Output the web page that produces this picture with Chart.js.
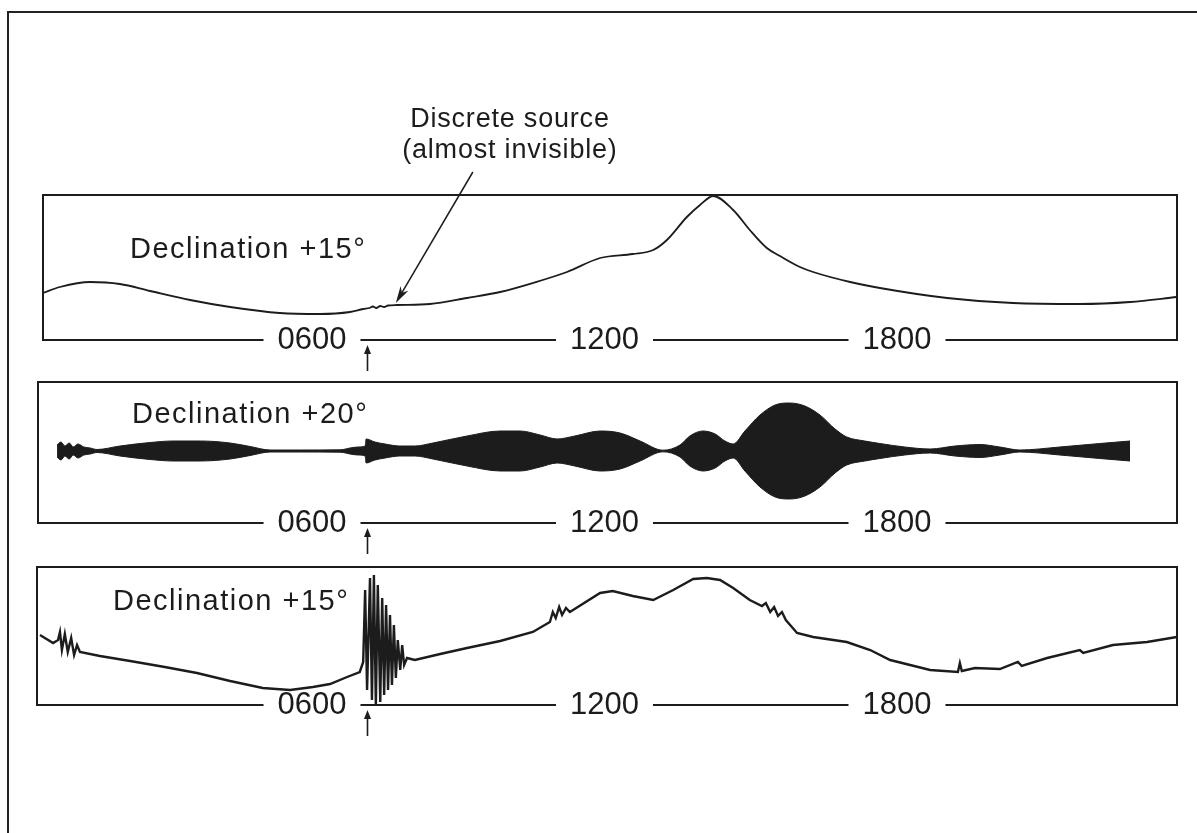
<!DOCTYPE html>
<html>
<head>
<meta charset="utf-8">
<script src="https://cdn.jsdelivr.net/npm/chart.js@4.4.1/dist/chart.umd.min.js"></script>
<style>
  html, body { margin: 0; padding: 0; background: #fff; }
  body { width: 1197px; height: 833px; position: relative; overflow: hidden; }
  .frame { position: absolute; left: 7px; top: 11px; right: -4px; bottom: -4px;
           border-top: 2px solid #222; border-left: 2px solid #222; }
  .panel { position: absolute; }
</style>
</head>
<body>
<div class="frame"></div>
<div class="panel" style="left:39px;top:95px;width:1142px;height:285px"><canvas id="c1"></canvas></div>
<div class="panel" style="left:34px;top:378px;width:1147px;height:185px"><canvas id="c2"></canvas></div>
<div class="panel" style="left:33px;top:563px;width:1148px;height:182px"><canvas id="c3"></canvas></div>
<script>
// time axis (hours)
var tickHours = [6, 12, 18];
var tickLabels = ['0600', '1200', '1800'];
var sourceHour = 7.12;

// top record: declination +15 (smooth)
var p1Hours = [0.48, 0.83, 1.45, 2.06, 2.68, 3.50, 4.32, 5.34, 6.16, 6.78,
  7.05, 7.18, 7.25, 7.32, 7.40, 7.48, 7.56, 7.74, 8.42, 9.18,
  9.86, 10.53, 11.23, 11.91, 12.58, 13.00, 13.28, 13.69, 13.96, 14.23,
  14.64, 14.98, 15.33, 15.60, 16.01, 16.28, 17.04, 17.65, 19.03, 20.38,
  21.75, 22.78, 23.74];
var p1Values = [47, 53, 58, 56, 49, 40, 33, 27, 26, 28,
  31, 32, 33.5, 32, 34, 33, 34.5, 35, 36, 42,
  48, 57, 68, 82, 86, 90, 100, 123, 135, 144,
  130, 110, 92, 84, 73, 68, 58, 52, 42, 37,
  36, 38, 43];

// middle record: declination +20 (interferometer envelope half-width)
var p2Hours = [0.77, 0.85, 0.93, 1.02, 1.10, 1.20, 1.32, 1.45, 1.59,
  2.06, 2.68, 3.15, 3.71, 4.32, 4.73, 5.14, 5.75, 6.57,
  6.64, 6.78, 6.95, 7.09, 7.11,
  7.29, 7.50, 7.80, 8.11, 8.48,
  9.18, 9.86, 10.27, 10.68, 11.03, 11.39, 11.91, 12.32, 12.73, 13.20,
  13.55, 13.75, 14.02, 14.27, 14.47, 14.64, 14.88, 15.19, 15.50, 15.80,
  16.11, 16.42, 16.73, 16.97, 17.34, 17.65, 18.16, 18.68, 19.19, 19.70,
  20.11, 20.52, 21.34, 22.16, 22.78];
var p2Spread = [6, 9, 5, 8, 4, 7, 4, 3, 1.5,
  5, 8.5, 10, 10, 8, 4.5, 1, 1, 1.2,
  1.5, 3, 4, 5, 12,
  9, 7, 5, 5, 8,
  15, 20, 20, 16, 12, 15, 20, 18, 10, 0.8,
  6, 15, 20, 17, 10, 7, 20, 36, 46, 48,
  45, 36, 22, 14, 10, 7.5, 4, 2, 5, 6.5,
  4, 1, 4, 7.5, 10];

// bottom record: declination +15 (noisy)
var p3Hours = [0.42, 0.69, 0.79, 0.83, 0.87, 0.93, 0.99, 1.06, 1.12, 1.18,
  1.24, 1.65, 2.27, 2.98, 3.64, 4.32, 4.99, 5.55, 6.02, 6.37,
  6.72, 6.98, 7.05, 7.09, 7.13, 7.19, 7.23, 7.27, 7.31, 7.35,
  7.40, 7.44, 7.48, 7.52, 7.56, 7.60, 7.64, 7.68, 7.72, 7.76,
  7.81, 7.85, 7.89, 7.95, 8.11, 8.63, 9.18, 9.86, 10.53, 10.88,
  10.94, 11.00, 11.07, 11.13, 11.21, 11.29, 11.91, 12.17, 12.58, 13.00,
  13.41, 13.82, 14.10, 14.37, 14.64, 14.98, 15.23, 15.31, 15.40, 15.48,
  15.56, 15.64, 15.72, 15.95, 16.28, 16.97, 17.45, 17.86, 18.27, 18.68,
  19.25, 19.29, 19.33, 19.60, 20.11, 20.48, 20.56, 21.08, 21.75, 21.82,
  22.43, 23.13, 23.74];
var p3Values = [70, 62, 65, 73, 55, 71, 53, 67, 50, 60,
  53, 49, 44, 38, 32, 24, 17, 15, 18, 21,
  28, 33, 43, 115, 15, 127, 5, 130, 0, 120,
  3, 107, 10, 100, 15, 90, 20, 80, 27, 65,
  35, 60, 40, 47, 45, 51, 57, 64, 73, 83,
  93, 87, 98, 90, 97, 93, 112, 114, 109, 105,
  115, 126, 127, 125, 117, 105, 99, 102, 93, 98,
  89, 93, 85, 72, 68, 63, 55, 45, 40, 35,
  33, 42, 34, 37, 36, 43, 39, 47, 55, 52,
  60, 63, 68];

var ink = '#1c1c1c';
var fontFamily = '"Liberation Sans", Arial, Helvetica, sans-serif';

function pts(xs, ys) {
  return xs.map(function (h, i) { return { x: h, y: ys[i] }; });
}

var notes = {
  id: 'notes',
  afterDraw: function (chart, args, o) {
    var ctx = chart.ctx, area = chart.chartArea, xs = chart.scales.x, ys = chart.scales.y;
    ctx.save();
    ctx.fillStyle = ink;
    ctx.strokeStyle = ink;
    ctx.font = '29px ' + fontFamily;
    ctx.letterSpacing = '1.5px';
    ctx.textAlign = 'left';
    ctx.textBaseline = 'alphabetic';
    ctx.fillText(o.label, area.left + o.dx, area.top + o.dy);

    // small arrow under the time axis
    var ax = Math.round(xs.getPixelForValue(sourceHour)) + 0.5;
    ctx.lineWidth = 1.6;
    ctx.beginPath();
    ctx.moveTo(ax, area.bottom + 12);
    ctx.lineTo(ax, area.bottom + 31);
    ctx.stroke();
    ctx.beginPath();
    ctx.moveTo(ax, area.bottom + 5);
    ctx.lineTo(ax - 3.5, area.bottom + 14);
    ctx.lineTo(ax + 3.5, area.bottom + 14);
    ctx.closePath();
    ctx.fill();

    if (o.callout) {
      var c = o.callout;
      var tx = xs.getPixelForValue(c.textHour);
      ctx.font = '27px ' + fontFamily;
      ctx.letterSpacing = '0.8px';
      ctx.textAlign = 'center';
      ctx.fillText(c.lines[0], tx, area.top - 68);
      ctx.fillText(c.lines[1], tx, area.top - 37);
      var x0 = xs.getPixelForValue(c.fromHour), y0 = area.top - 23;
      var x1 = xs.getPixelForValue(c.tipHour), y1 = ys.getPixelForValue(c.tipValue);
      var ang = Math.atan2(y1 - y0, x1 - x0);
      ctx.lineWidth = 1.5;
      ctx.beginPath();
      ctx.moveTo(x0, y0);
      ctx.lineTo(x1 - 10 * Math.cos(ang), y1 - 10 * Math.sin(ang));
      ctx.stroke();
      ctx.beginPath();
      ctx.moveTo(x1, y1);
      ctx.lineTo(x1 - 17 * Math.cos(ang) + 4.5 * Math.sin(ang), y1 - 17 * Math.sin(ang) - 4.5 * Math.cos(ang));
      ctx.lineTo(x1 - 12 * Math.cos(ang), y1 - 12 * Math.sin(ang));
      ctx.lineTo(x1 - 17 * Math.cos(ang) - 4.5 * Math.sin(ang), y1 - 17 * Math.sin(ang) + 4.5 * Math.cos(ang));
      ctx.closePath();
      ctx.fill();
    }
    ctx.restore();
  }
};

function scalesFor(xmin, ymin, ymax) {
  var edge = { display: true, color: ink, width: 2 };
  return {
    x: {
      type: 'linear', position: 'bottom', min: xmin, max: 23.744,
      grid: { display: false },
      border: edge,
      afterBuildTicks: function (s) { s.ticks = tickHours.map(function (v) { return { value: v }; }); },
      afterFit: function (s) { s.height = 40; },
      ticks: {
        z: 1,
        mirror: true,
        padding: -19,
        color: ink,
        font: { family: fontFamily, size: 31 },
        maxRotation: 0,
        autoSkip: false,
        showLabelBackdrop: true,
        backdropColor: '#ffffff',
        backdropPadding: { left: 14, right: 14, top: -7, bottom: -7 },
        callback: function (v) { return tickLabels[tickHours.indexOf(v)]; }
      }
    },
    xTop: {
      type: 'linear', position: 'top', min: xmin, max: 23.744,
      grid: { display: false }, border: edge, ticks: { display: false },
      afterFit: function (s) { s.height = 0; }
    },
    y: {
      type: 'linear', position: 'left', min: ymin, max: ymax,
      grid: { display: false }, border: edge, ticks: { display: false },
      afterFit: function (s) { s.width = 0; }
    },
    yRight: {
      type: 'linear', position: 'right', min: ymin, max: ymax,
      grid: { display: false }, border: edge, ticks: { display: false },
      afterFit: function (s) { s.width = 0; }
    }
  };
}

function baseOptions(pad, xmin, ymin, ymax, note) {
  return {
    responsive: true,
    maintainAspectRatio: false,
    animation: false,
    events: [],
    layout: { padding: pad },
    scales: scalesFor(xmin, ymin, ymax),
    plugins: { legend: { display: false }, tooltip: { enabled: false }, notes: note }
  };
}

// top record
new Chart(document.getElementById('c1'), {
  type: 'line',
  data: {
    datasets: [{
      data: pts(p1Hours, p1Values),
      borderColor: ink, borderWidth: 1.8, pointRadius: 0,
      cubicInterpolationMode: 'monotone', fill: false
    }]
  },
  options: baseOptions({ left: 4, right: 4, top: 100, bottom: 0 }, 0.482, 0, 145, {
    label: 'Declination +15°', dx: 87, dy: 63,
    callout: { lines: ['Discrete source', '(almost invisible)'], textHour: 10.06,
               fromHour: 9.30, tipHour: 7.72, tipValue: 37 }
  }),
  plugins: [notes]
});

// middle record
new Chart(document.getElementById('c2'), {
  type: 'line',
  data: {
    datasets: [{
      data: pts(p2Hours, p2Spread),
      borderColor: ink, borderWidth: 1, pointRadius: 0,
      cubicInterpolationMode: 'monotone', fill: '+1', backgroundColor: ink
    }, {
      data: pts(p2Hours, p2Spread.map(function (v) { return -v; })),
      borderColor: ink, borderWidth: 1, pointRadius: 0,
      cubicInterpolationMode: 'monotone', fill: false
    }]
  },
  options: baseOptions({ left: 4, right: 4, top: 4, bottom: 0 }, 0.379, -72, 69, {
    label: 'Declination +20°', dx: 94, dy: 41
  }),
  plugins: [notes]
});

// bottom record
new Chart(document.getElementById('c3'), {
  type: 'line',
  data: {
    datasets: [{
      data: pts(p3Hours, p3Values),
      borderColor: ink, borderWidth: 2.4, pointRadius: 0,
      tension: 0, fill: false
    }]
  },
  options: baseOptions({ left: 4, right: 4, top: 4, bottom: 0 }, 0.359, 0, 138, {
    label: 'Declination +15°', dx: 76, dy: 43
  }),
  plugins: [notes]
});
</script>
</body>
</html>
